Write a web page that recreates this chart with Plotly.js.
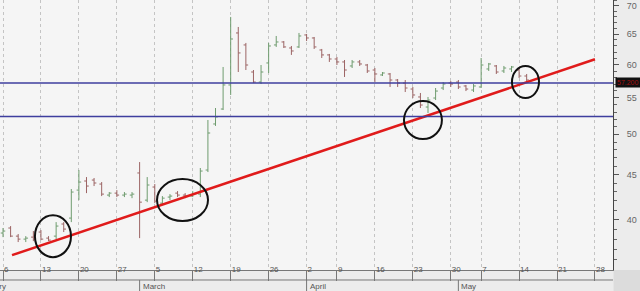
<!DOCTYPE html>
<html>
<head>
<meta charset="utf-8">
<script src="https://cdn.plot.ly/plotly-3.0.1.min.js"></script>
<style>
html,body{margin:0;padding:0;background:#ececec;}
#chart{width:640px;height:291px;}
</style>
</head>
<body>
<div id="chart"></div>
<script>
// ---- data ----
const dates = [
 "2012-02-06","2012-02-07","2012-02-08","2012-02-09","2012-02-10",
 "2012-02-13","2012-02-14","2012-02-15","2012-02-16","2012-02-17",
 "2012-02-20","2012-02-21","2012-02-22","2012-02-23","2012-02-24",
 "2012-02-27","2012-02-28","2012-02-29","2012-03-01","2012-03-02",
 "2012-03-05","2012-03-06","2012-03-07","2012-03-08","2012-03-09",
 "2012-03-12","2012-03-13","2012-03-14","2012-03-15","2012-03-16",
 "2012-03-19","2012-03-20","2012-03-21","2012-03-22","2012-03-23",
 "2012-03-26","2012-03-27","2012-03-28","2012-03-29","2012-03-30",
 "2012-04-02","2012-04-03","2012-04-04","2012-04-05",
 "2012-04-09","2012-04-10","2012-04-11","2012-04-12","2012-04-13",
 "2012-04-16","2012-04-17","2012-04-18","2012-04-19","2012-04-20",
 "2012-04-23","2012-04-24","2012-04-25","2012-04-26","2012-04-27",
 "2012-04-30","2012-05-02","2012-05-03","2012-05-04",
 "2012-05-07","2012-05-08","2012-05-09","2012-05-10","2012-05-11",
 "2012-05-14","2012-05-15"
];
const openP = [
 38.62,39.13,38.31,38.01,38.21,38.72,38.11,38.31,39.54,40.16,
 43.21,44.25,44.36,43.90,42.65,42.87,42.65,42.65,45.19,42.09,
 43.56,41.76,42.43,42.87,42.65,42.54,42.76,45.54,51.37,53.42,
 56.89,65.18,63.17,58.85,57.33,60.26,63.17,63.66,62.67,62.84,
 64.84,64.33,62.34,61.54,60.89,60.42,59.79,60.42,59.94,59.16,
 58.40,58.55,57.63,57.18,56.29,55.13,53.70,54.98,56.44,57.18,
 57.33,56.74,56.14,56.59,59.32,59.79,59.01,59.32,59.16,58.24
];
const highP = [
 39.13,39.33,38.52,38.31,38.82,38.92,38.31,39.74,39.74,43.33,
 45.54,44.71,44.60,44.13,42.99,43.21,42.99,42.99,46.50,44.71,
 43.90,42.54,42.76,43.10,42.87,43.10,45.78,51.91,53.56,59.63,
 67.97,66.21,63.50,59.16,59.94,63.50,64.67,63.82,63.00,65.18,
 65.01,64.50,62.51,61.70,61.21,60.73,60.73,60.73,60.10,59.47,
 58.85,58.70,57.78,57.63,56.59,55.71,55.13,56.44,57.33,57.48,
 57.63,56.89,57.03,61.05,60.26,59.94,59.79,59.79,59.47,58.55
];
const lowP = [
 38.21,38.21,37.72,37.72,37.81,37.91,37.81,38.01,38.72,39.74,
 42.09,42.87,43.67,42.54,42.43,42.43,42.43,42.31,38.11,41.87,
 41.76,41.55,42.09,42.43,42.31,42.43,42.43,45.30,51.11,53.28,
 55.42,58.85,59.16,57.18,57.03,58.70,62.84,62.67,61.54,62.67,
 63.82,62.51,61.05,60.42,59.94,58.09,59.47,59.79,58.70,57.33,
 58.24,56.59,56.59,55.85,54.98,53.56,52.87,54.69,56.14,56.59,
 56.29,55.99,55.85,56.44,59.01,58.55,58.70,58.85,57.94,57.33
];
const closeP = [
 38.82,38.31,38.01,38.11,38.01,38.01,37.91,39.33,39.02,42.99,
 44.13,43.67,44.02,42.76,42.87,42.65,42.76,42.76,41.87,43.79,
 41.98,42.31,42.54,42.65,42.54,42.76,45.42,50.17,52.32,56.89,
 64.16,61.86,59.94,57.33,58.85,63.00,63.66,62.84,62.18,64.67,
 64.33,62.84,61.54,60.89,60.42,59.16,60.42,60.10,59.01,58.55,
 58.70,57.63,57.18,56.44,55.42,53.98,54.69,55.99,57.03,57.03,
 56.59,56.29,56.74,59.94,60.10,58.85,59.47,59.63,58.24,57.63
];
const holidays = ["2012-04-06","2012-05-01"];
const weekTicks = ["2012-02-06","2012-02-13","2012-02-20","2012-02-27","2012-03-05","2012-03-12",
 "2012-03-19","2012-03-26","2012-04-02","2012-04-09","2012-04-16","2012-04-23","2012-04-30",
 "2012-05-07","2012-05-14","2012-05-21","2012-05-28"];
const weekLabels = ["6","13","20","27","5","12","19","26","2","9","16","23","30","7","14","21","28"];
const monthStarts = ["2012-03-01","2012-04-02","2012-05-02"];
const monthNames = ["March","April","May"];
const yTicks = [40,45,50,55,60,65,70];
const levels = [57.2, 52.4];
const levelLabel = "57.200";
const trendDates = ["2012-02-07 04:30","2012-05-28 00:00"];
const trendValues = [36.45, 60.84];
const circleStart = ["2012-02-10 05:00","2012-03-05 07:00","2012-04-19 20:00","2012-05-11 01:30"];
const circleEnd   = ["2012-02-16 23:00","2012-03-14 00:15","2012-04-26 20:00","2012-05-16 15:00"];
const circleLow   = [36.26, 39.85, 49.38, 54.98];
const circleHigh  = [40.47, 44.48, 54.55, 59.79];
const xRange = ["2012-02-03 14:30","2012-05-30 09:00"];
const yRange = [35.06, 71.05];

// ---- traces ----
const ohlc = {
  type: "ohlc", x: dates, open: openP, high: highP, low: lowP, close: closeP,
  increasing: {line: {color: "#6f9c6f", width: 1}},
  decreasing: {line: {color: "#9c6464", width: 1}},
  tickwidth: 0.3, hoverinfo: "skip", showlegend: false
};
const trend = {
  type: "scatter", mode: "lines", x: trendDates, y: trendValues,
  line: {color: "#e01b1b", width: 2.5}, hoverinfo: "skip", showlegend: false
};

const minorVals = [];
for (let v = 36; v <= 71; v++) if (yTicks.indexOf(v) < 0) minorVals.push(v);

const shapes = [];
levels.forEach(v => shapes.push({type:"line", xref:"paper", x0:0, x1:1, yref:"y", y0:v, y1:v,
  line:{color:"#3e3e9e", width:1.5}, layer:"above"}));
for (let i = 0; i < circleStart.length; i++) {
  shapes.push({type:"circle", xref:"x", yref:"y", x0:circleStart[i], x1:circleEnd[i],
    y0:circleLow[i], y1:circleHigh[i], line:{color:"#111", width:2}, layer:"above"});
}
// bottom label band separators
shapes.push({type:"line", xref:"paper", x0:0, x1:1, yref:"paper", y0:-0.037, y1:-0.037,
  line:{color:"#777", width:1}});
monthStarts.forEach(d => shapes.push({type:"line", xref:"x", x0:d, x1:d, yref:"paper",
  y0:-0.037, y1:-0.08, line:{color:"#777", width:1}}));
shapes.push({type:"rect", xref:"paper", x0:1.001, x1:1.06, yref:"paper", y0:0, y1:-0.09,
  fillcolor:"#dcdcdc", line:{width:0}, layer:"below"});

const annotations = [];
monthStarts.forEach((d, i) => annotations.push({xref:"x", x:d, xanchor:"left", yref:"paper",
  y:-0.036, yanchor:"top", text:monthNames[i], showarrow:false,
  font:{size:8, color:"#555", family:"Liberation Sans, Arial, sans-serif"}, xshift:1}));
annotations.push({xref:"paper", x:8/613, xanchor:"right", yref:"paper", y:-0.036, yanchor:"top",
  text:"February", showarrow:false, font:{size:8, color:"#555", family:"Liberation Sans, Arial, sans-serif"}});
annotations.push({xref:"paper", x:1.004, xanchor:"left", yref:"y", y:Math.log10(levels[0]),
  yanchor:"middle", text:levelLabel, showarrow:false, bgcolor:"#111", borderpad:1,
  font:{size:7, color:"#a31010", family:"Liberation Sans, Arial, sans-serif"}});

const layout = {
  width: 640, height: 291,
  margin: {l:0, r:27, t:0, b:21, pad:0},
  paper_bgcolor: "#ececec",
  plot_bgcolor: "#f5f5f5",
  showlegend: false,
  xaxis: {
    type: "date", range: xRange,
    rangebreaks: [{bounds:["sat","mon"]}, {values: holidays}],
    rangeslider: {visible:false},
    tickmode: "array", tickvals: weekTicks, ticktext: weekLabels,
    ticks: "outside", ticklen: 10, tickcolor: "#777", tickwidth: 1,
    ticklabelposition: "outside right", ticklabelstandoff: -9,
    tickfont: {size: 8, color: "#555", family:"Liberation Sans, Arial, sans-serif"},
    showgrid: true, gridcolor: "#c4c4c4", griddash: "dot", gridwidth: 1,
    showline: true, linecolor: "#777", linewidth: 1,
    zeroline: false, fixedrange: true
  },
  yaxis: {
    type: "log", side: "right",
    range: [Math.log10(yRange[0]), Math.log10(yRange[1])],
    tickmode: "array", tickvals: yTicks, ticktext: yTicks.map(String),
    ticks: "outside", ticklen: 5, tickcolor: "#555",
    minor: {tickmode:"array", tickvals: minorVals, ticks:"outside", ticklen:3, tickcolor:"#666"},
    ticklabelstandoff: 6,
    tickfont: {size: 9, color: "#666", family:"Liberation Sans, Arial, sans-serif"},
    showgrid: false, showline: true, linecolor: "#444", linewidth: 1,
    zeroline: false, fixedrange: true
  },
  shapes: shapes,
  annotations: annotations
};

Plotly.newPlot("chart", [ohlc, trend], layout, {staticPlot:true, displayModeBar:false});
</script>
</body>
</html>
